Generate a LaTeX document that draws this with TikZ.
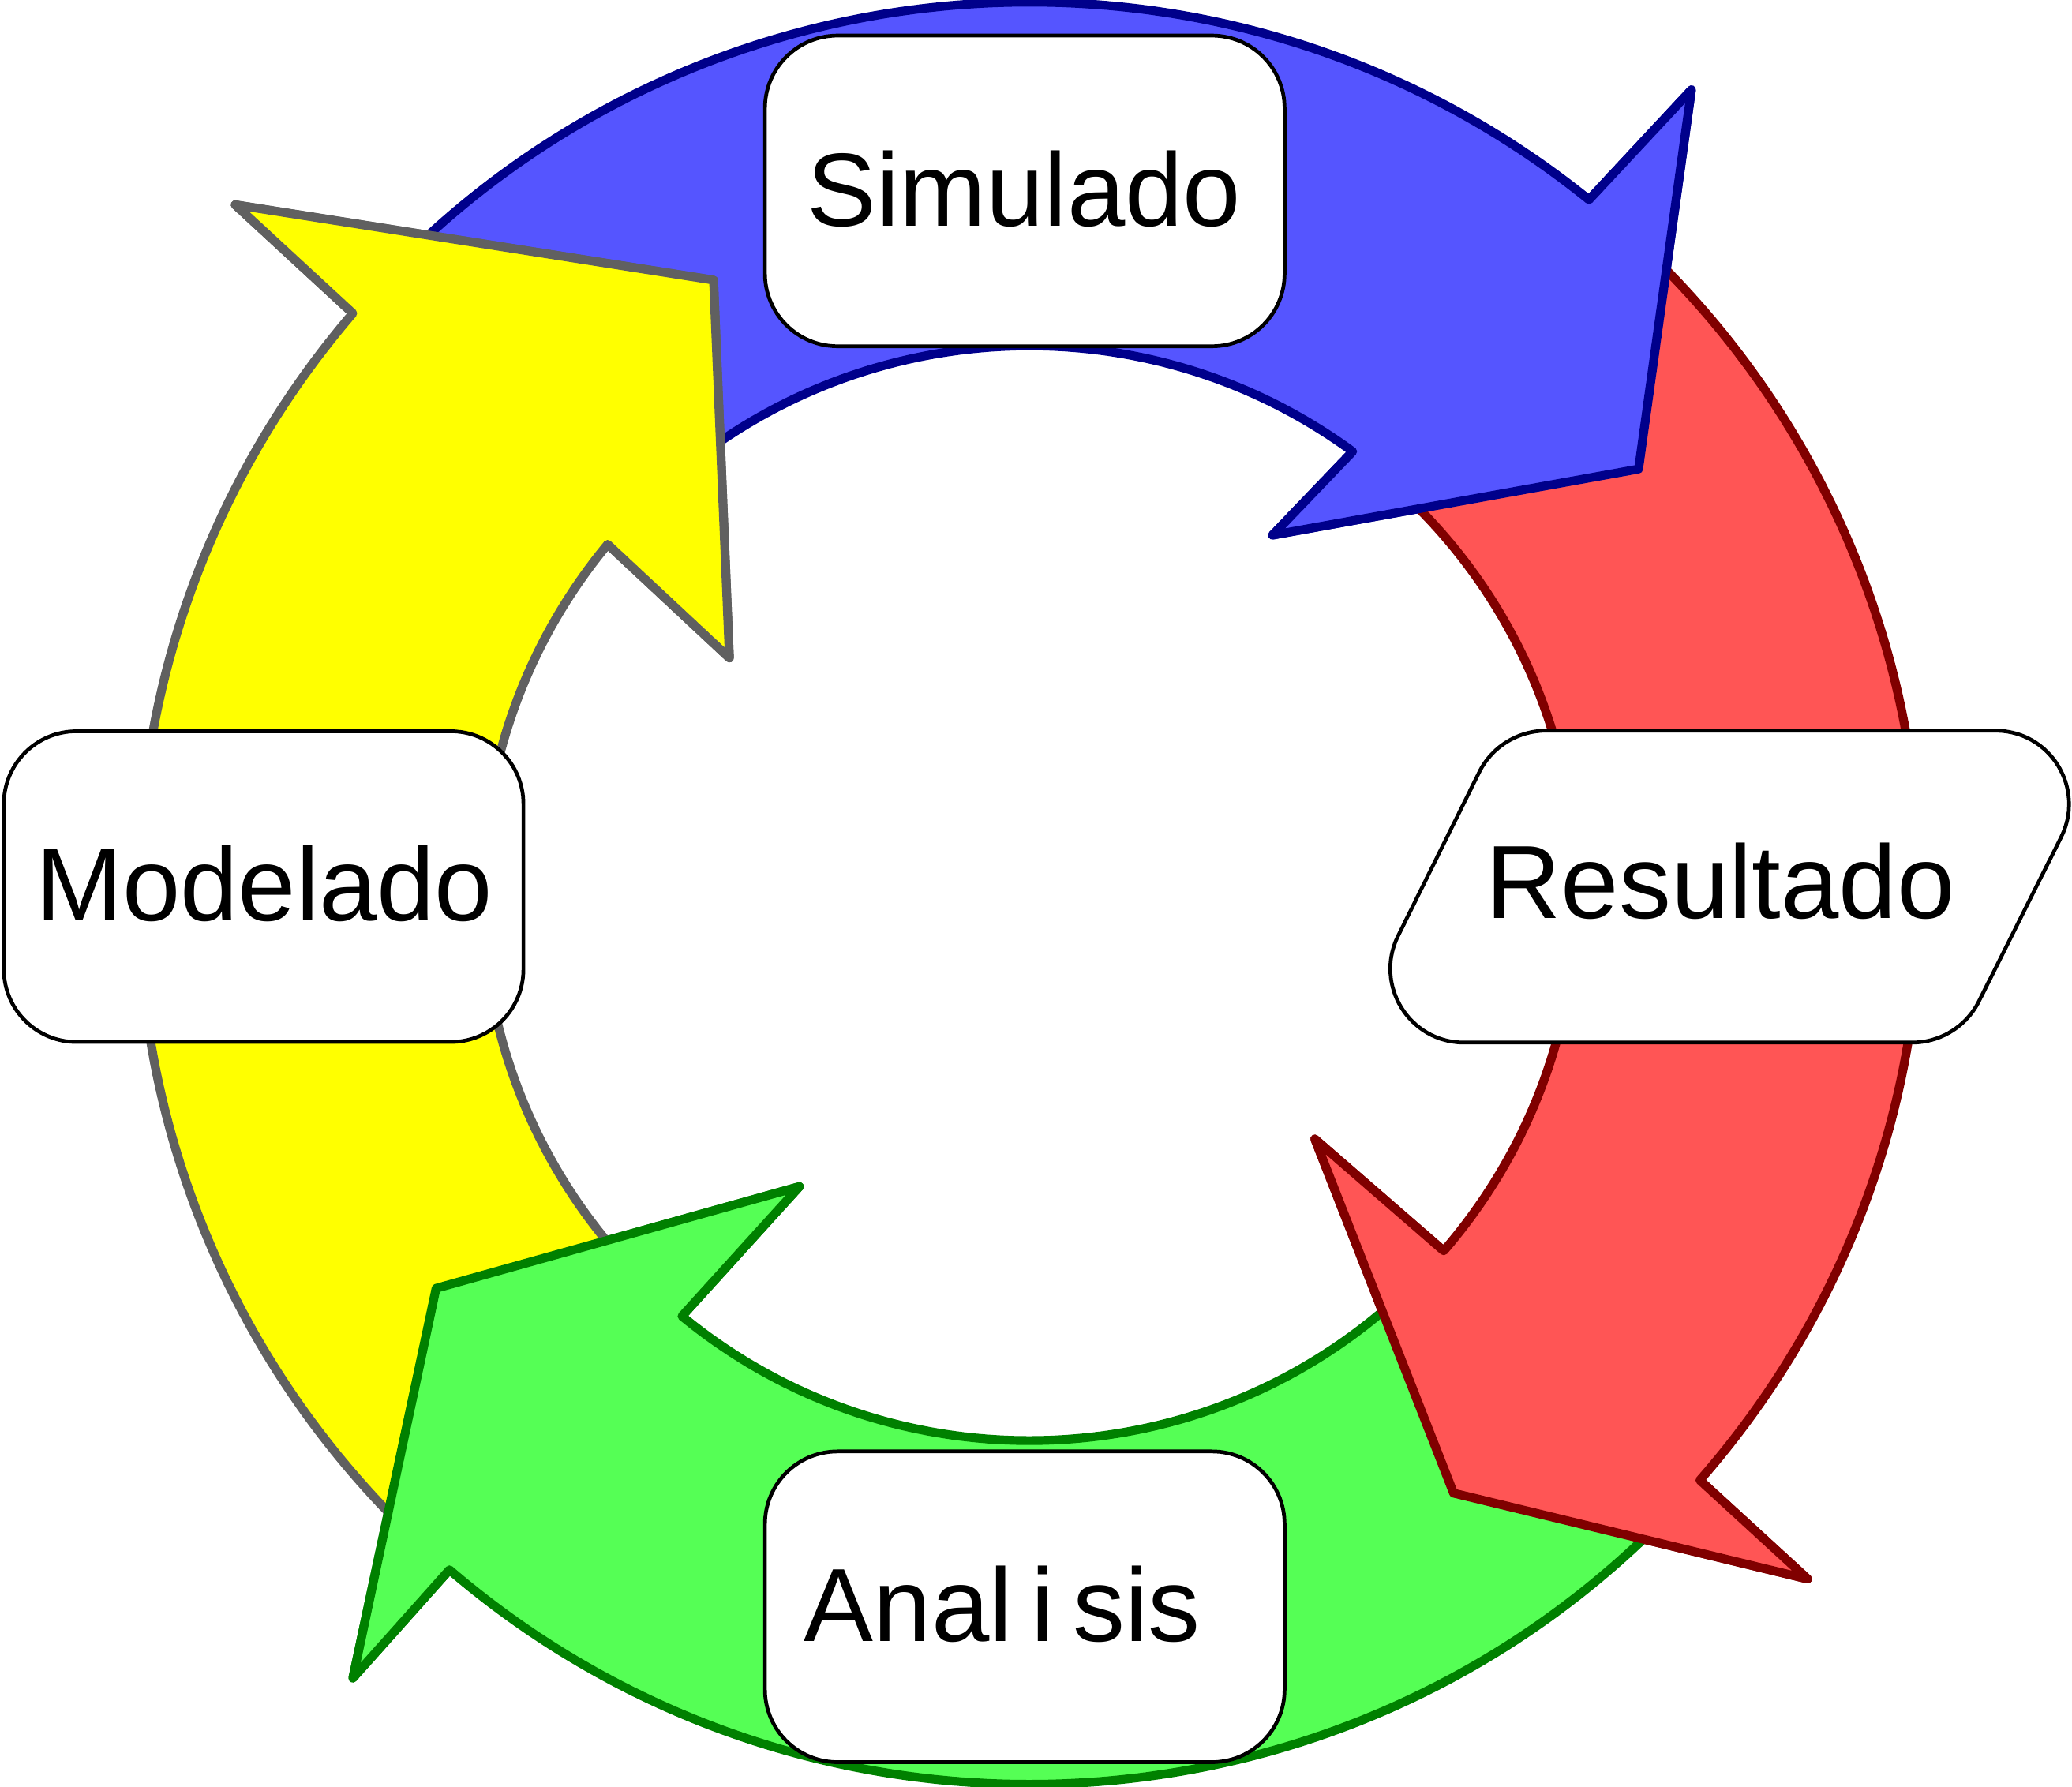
\documentclass[tikz,border=0pt]{standalone}
\usepackage{fontspec}
\setmainfont{Liberation Sans}
\definecolor{bfill}{RGB}{85,85,255}
\definecolor{bline}{RGB}{0,0,139}
\definecolor{rfill}{RGB}{255,85,85}
\definecolor{rline}{RGB}{128,0,0}
\definecolor{gfill}{RGB}{85,255,85}
\definecolor{gline}{RGB}{0,128,0}
\definecolor{yfill}{RGB}{255,255,0}
\definecolor{yline}{RGB}{96,96,96}
\begin{document}
\begin{tikzpicture}[x=0.01cm,y=0.01cm,
  arrowpart/.style={line width=1.9pt, line join=round, line cap=round},
  box/.style={draw=black, line width=0.8pt, fill=white, rounded corners=0.55cm,
              minimum width=3.93cm, minimum height=2.35cm, inner sep=0pt},
  lbl/.style={font=\fontsize{22.4}{27}\selectfont, inner sep=0pt, anchor=base}]
\useasboundingbox (0,0) rectangle (1568,1352);
\coordinate (C) at (779,676);
\def\Ro{6.74cm}
\def\Ri{4.14cm}
% blue
\coordinate (bbo) at (1280,1284);
\coordinate (btip) at (1240,997);
\coordinate (bbi) at (963,947);
\coordinate (bjo) at ([shift={(51.1:\Ro)}]C);
\coordinate (bji) at ([shift={(53.8:\Ri)}]C);
% red
\coordinate (rbo) at (1368,157);
\coordinate (rtip) at (1100,222);
\coordinate (rbi) at (995,490);
\coordinate (rjo) at ([shift={(-41.2:\Ro)}]C);
\coordinate (rji) at ([shift={(-40.8:\Ri)}]C);
% green
\coordinate (gbo) at (267,82);
\coordinate (gtip) at (330,377);
\coordinate (gbi) at (605,454);
\coordinate (gjo) at ([shift={(229.4:\Ro)}]C);
\coordinate (gji) at ([shift={(230.6:\Ri)}]C);
% yellow
\coordinate (ybo) at (178,1197);
\coordinate (ytip) at (540,1140);
\coordinate (ybi) at (552,854);
\coordinate (yjo) at ([shift={(139.4:\Ro)}]C);
\coordinate (yji) at ([shift={(140.4:\Ri)}]C);

% full arrows
\path[arrowpart, fill=bfill, draw=bline] ([shift={(137:\Ro)}]C) arc[start angle=137, end angle=51.1, radius=\Ro]
  -- (bbo) -- (btip) -- (bbi) -- (bji) arc[start angle=53.8, end angle=137, radius=\Ri] -- cycle;
\path[arrowpart, fill=rfill, draw=rline] ([shift={(47:\Ro)}]C) arc[start angle=47, end angle=-41.2, radius=\Ro]
  -- (rbo) -- (rtip) -- (rbi) -- (rji) arc[start angle=-40.8, end angle=47, radius=\Ri] -- cycle;
\path[arrowpart, fill=gfill, draw=gline] ([shift={(316:\Ro)}]C) arc[start angle=316, end angle=229.4, radius=\Ro]
  -- (gbo) -- (gtip) -- (gbi) -- (gji) arc[start angle=230.6, end angle=316, radius=\Ri] -- cycle;
\path[arrowpart, fill=yfill, draw=yline] ([shift={(226:\Ro)}]C) arc[start angle=226, end angle=139.4, radius=\Ro]
  -- (ybo) -- (ytip) -- (ybi) -- (yji) arc[start angle=140.4, end angle=226, radius=\Ri] -- cycle;

% heads on top
\fill[bfill] (bjo) -- (bbo) -- (btip) -- (bbi) -- (bji) -- cycle;
\draw[arrowpart, bline] (bjo) -- (bbo) -- (btip) -- (bbi) -- (bji);
\fill[rfill] (rjo) -- (rbo) -- (rtip) -- (rbi) -- (rji) -- cycle;
\draw[arrowpart, rline] (rjo) -- (rbo) -- (rtip) -- (rbi) -- (rji);
\fill[gfill] (gjo) -- (gbo) -- (gtip) -- (gbi) -- (gji) -- cycle;
\draw[arrowpart, gline] (gjo) -- (gbo) -- (gtip) -- (gbi) -- (gji);
\fill[yfill] (yjo) -- (ybo) -- (ytip) -- (ybi) -- (yji) -- cycle;
\draw[arrowpart, yline] (yjo) -- (ybo) -- (ytip) -- (ybi) -- (yji);

% boxes
\node[box] (simbox) at (775.5,1207.5) {};
\node[box] (modbox) at (199.5,681) {};
\node[box] (anabox) at (775.5,136) {};
\draw[draw=black, line width=0.8pt, fill=white]
  (1170,799) -- (1510,799) .. controls (1551.5,799) and (1578.3,755.6) .. (1559.8,718.5)
  -- (1497.6,594.3) .. controls (1488.1,575.2) and (1468.3,563) .. (1447,563)
  -- (1108,563) .. controls (1066.5,563) and (1039.6,606.5) .. (1058,643.7)
  -- (1119.4,767.6) .. controls (1128.9,786.8) and (1148.7,799) .. (1170,799) -- cycle;

\node[lbl] (sim) at (775,1181) {Simulado};
\node[lbl] (mod) at (200,655) {Modelado};
\node[lbl] (res) at (1302,657) {Resultado};
\node[lbl] (ana) at (758.5,110) {\spaceskip=0.18em Anal i sis};
\end{tikzpicture}
\end{document}
